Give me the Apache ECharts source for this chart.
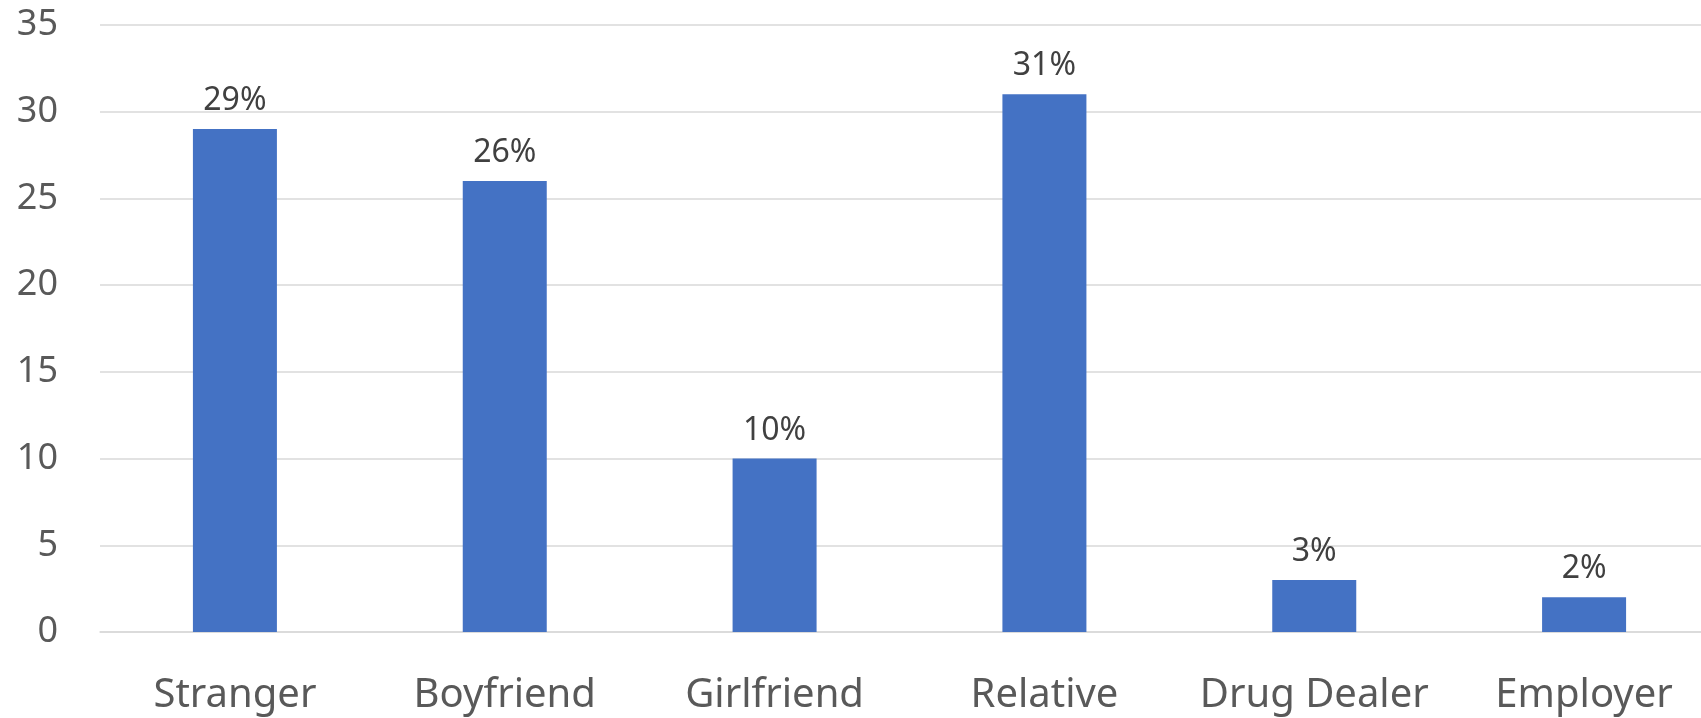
<!DOCTYPE html>
<html>
<head>
<meta charset="utf-8">
<script src="https://cdn.jsdelivr.net/npm/echarts@6/dist/echarts.min.js"></script>
<style>
html,body{margin:0;padding:0;background:#fff;}
#chart{width:1701px;height:718px;}
</style>
</head>
<body>
<div id="chart"></div>
<script>
const categories = ['Stranger', 'Boyfriend', 'Girlfriend', 'Relative', 'Drug Dealer', 'Employer'];
const values = [29, 26, 10, 31, 3, 2];
const yTicks = { min: 0, max: 35, interval: 5 };

const chart = echarts.init(document.getElementById('chart'));
chart.setOption({
  animation: false,
  grid: { left: 100, right: -18, top: 25, bottom: 86, containLabel: false, outerBoundsMode: 'none' },
  xAxis: {
    type: 'category',
    data: categories,
    axisLine: { show: true, lineStyle: { color: '#d9d9d9', width: 1.5 } },
    axisTick: { show: false },
    axisLabel: { interval: 0, color: '#595959', fontSize: 40, fontFamily: 'Noto Sans', margin: 44 }
  },
  yAxis: {
    type: 'value',
    min: yTicks.min, max: yTicks.max, interval: yTicks.interval,
    axisLine: { show: false },
    axisTick: { show: false },
    splitLine: { lineStyle: { color: '#d9d9d9', width: 1.5 } },
    axisLabel: { color: '#595959', fontSize: 36, fontFamily: 'Noto Sans', margin: 42 }
  },
  series: [{
    type: 'bar',
    data: values,
    barWidth: 84,
    itemStyle: { color: '#4472C4' },
    label: {
      show: true, position: 'top', distance: 12,
      formatter: '{c}%', color: '#404040', fontSize: 32, fontFamily: 'Noto Sans'
    }
  }]
});
</script>
</body>
</html>
